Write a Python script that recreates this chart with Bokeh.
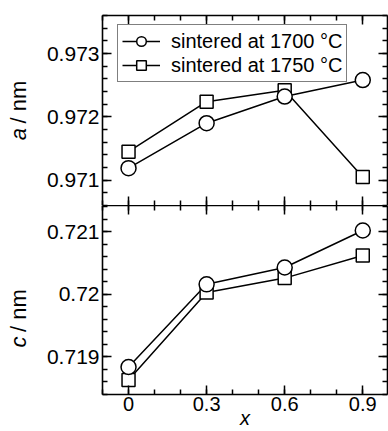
import numpy as np
from bokeh.plotting import figure
from bokeh.models import LinearAxis, FixedTicker, Legend, LegendItem, Label, Range1d
from bokeh.layouts import column, row
from bokeh.embed import file_html
from bokeh.resources import INLINE

# ---- data ----
x_vals = [0, 0.3, 0.6, 0.9]
a_1700 = [0.97119, 0.97190, 0.97232, 0.97258]
a_1750 = [0.97145, 0.97224, 0.97242, 0.97105]
c_1700 = [0.71884, 0.72016, 0.72043, 0.72102]
c_1750 = [0.71863, 0.72003, 0.72026, 0.72062]
series_labels = ["sintered at 1700 °C", "sintered at 1750 °C"]

x_ticks = [0, 0.3, 0.6, 0.9]
x_tick_labels = ["0", "0.3", "0.6", "0.9"]
a_ticks = [0.971, 0.972, 0.973]
a_tick_labels = ["0.971", "0.972", "0.973"]
c_ticks = [0.719, 0.72, 0.721]
c_tick_labels = ["0.719", "0.72", "0.721"]

FONT = "Liberation Sans"
LAB_W = 40
W = 388 - LAB_W
H = 431
X_RANGE = Range1d(-0.1, 0.995)
A_RANGE = (0.9706, 0.9736)
C_RANGE = (0.7184, 0.72142)

x_minor = [round(-0.1 + 0.1 * i, 2) for i in range(12)]
a_minor = [round(v, 5) for v in np.arange(0.9706, 0.97361, 0.0002)]
c_minor = [round(v, 5) for v in np.arange(0.7184, 0.72141, 0.0002)]

x_ticker = FixedTicker(ticks=x_ticks, minor_ticks=x_minor)
a_ticker = FixedTicker(ticks=a_ticks, minor_ticks=a_minor)
c_ticker = FixedTicker(ticks=c_ticks, minor_ticks=c_minor)


def style_axis(ax, ticker, ticks, labels=None, standoff=3, size="21px"):
    ax.ticker = ticker
    ax.axis_line_color = "black"
    ax.axis_line_width = 1.6
    ax.major_tick_in = 9
    ax.major_tick_out = 0
    ax.minor_tick_in = 5
    ax.minor_tick_out = 0
    ax.major_tick_line_color = "black"
    ax.minor_tick_line_color = "black"
    ax.major_tick_line_width = 1.5
    ax.minor_tick_line_width = 1.5
    if labels is not None:
        ax.major_label_overrides = {t: s for t, s in zip(ticks, labels)}
        ax.major_label_text_font = FONT
        ax.major_label_text_font_size = size
        ax.major_label_text_color = "black"
        ax.major_label_standoff = standoff
    else:
        ax.major_label_overrides = {t: "" for t in ticks}
        ax.major_label_text_font_size = "0px"
        ax.major_label_standoff = 0


def make_fig(height, yr, top_border, bottom_border):
    p = figure(width=W, height=height, x_range=X_RANGE, y_range=Range1d(*yr),
               output_backend="svg", toolbar_location=None,
               min_border_left=102 - LAB_W, min_border_right=1,
               min_border_top=top_border, min_border_bottom=bottom_border)
    p.outline_line_color = None
    p.xgrid.visible = False
    p.ygrid.visible = False
    p.background_fill_color = "white"
    p.border_fill_color = "white"
    return p


def add_series(p, y1700, y1750):
    l1 = p.line(x_vals, y1700, line_color="black", line_width=1.5)
    l2 = p.line(x_vals, y1750, line_color="black", line_width=1.5)
    s2 = p.scatter(x_vals, y1750, marker="square", size=13, fill_color="white",
                   line_color="black", line_width=1.5)
    s1 = p.scatter(x_vals, y1700, marker="circle", size=15, fill_color="white",
                   line_color="black", line_width=1.5)
    return (l1, s1), (l2, s2)


# ---- top panel: a ----
p1 = make_fig(205, A_RANGE, 15, 0)
style_axis(p1.xaxis[0], x_ticker, x_ticks)
p1.xaxis[0].axis_line_color = None
style_axis(p1.yaxis[0], a_ticker, a_ticks, a_tick_labels)
ax_top = LinearAxis()
style_axis(ax_top, x_ticker, x_ticks)
p1.add_layout(ax_top, "above")
ay_right1 = LinearAxis()
style_axis(ay_right1, a_ticker, a_ticks)
p1.add_layout(ay_right1, "right")
r1700, r1750 = add_series(p1, a_1700, a_1750)

legend = Legend(items=[LegendItem(label=series_labels[0], renderers=list(r1700)),
                       LegendItem(label=series_labels[1], renderers=list(r1750))],
                location=(15, 123), orientation="vertical",
                glyph_width=38, glyph_height=24, label_height=20,
                label_standoff=11, padding=4, spacing=0, margin=0,
                label_text_font=FONT, label_text_font_size="20px", label_text_color="black",
                border_line_color="black", border_line_width=1.5,
                background_fill_color="white", background_fill_alpha=1.0)
p1.add_layout(legend)

# ---- bottom panel: c ----
p2 = make_fig(H - 205, C_RANGE, 0, 35)
style_axis(p2.xaxis[0], x_ticker, x_ticks, x_tick_labels, standoff=2, size="20px")
p2.xaxis[0].axis_label = "x"
p2.xaxis[0].axis_label_text_font = FONT
p2.xaxis[0].axis_label_text_font_size = "20px"
p2.xaxis[0].axis_label_text_font_style = "italic"
p2.xaxis[0].axis_label_text_color = "black"
p2.xaxis[0].axis_label_standoff = -7
style_axis(p2.yaxis[0], c_ticker, c_ticks, c_tick_labels)
ax_top2 = LinearAxis()
style_axis(ax_top2, x_ticker, x_ticks)
p2.add_layout(ax_top2, "above")
ay_right2 = LinearAxis()
style_axis(ay_right2, c_ticker, c_ticks)
p2.add_layout(ay_right2, "right")
add_series(p2, c_1700, c_1750)

# ---- y-axis titles column ----
lab = figure(width=LAB_W, height=H, output_backend="svg", toolbar_location=None,
             x_axis_location=None, y_axis_location=None,
             min_border_left=0, min_border_right=0, min_border_top=0, min_border_bottom=0)
lab.outline_line_color = None
lab.xgrid.visible = False
lab.ygrid.visible = False
lab.border_fill_color = "white"
lab.background_fill_color = "white"


def add_ylabel(var, y_var, y_rest):
    common = dict(x=18, x_units="screen", y_units="screen", angle=np.pi / 2,
                  text_baseline="alphabetic", text_font=FONT, text_font_size="22px",
                  text_color="black")
    lab.add_layout(Label(text=var, y=y_var, text_align="right", text_font_style="italic", **common))
    lab.add_layout(Label(text="/ nm", y=y_rest, text_align="left", **common))


add_ylabel("a", H - 127.5, H - 123)
add_ylabel("c", H - 336, H - 331.5)

layout = row(lab, column(p1, p2, spacing=0), spacing=0)
open("out.html", "w").write(file_html(layout, INLINE))
